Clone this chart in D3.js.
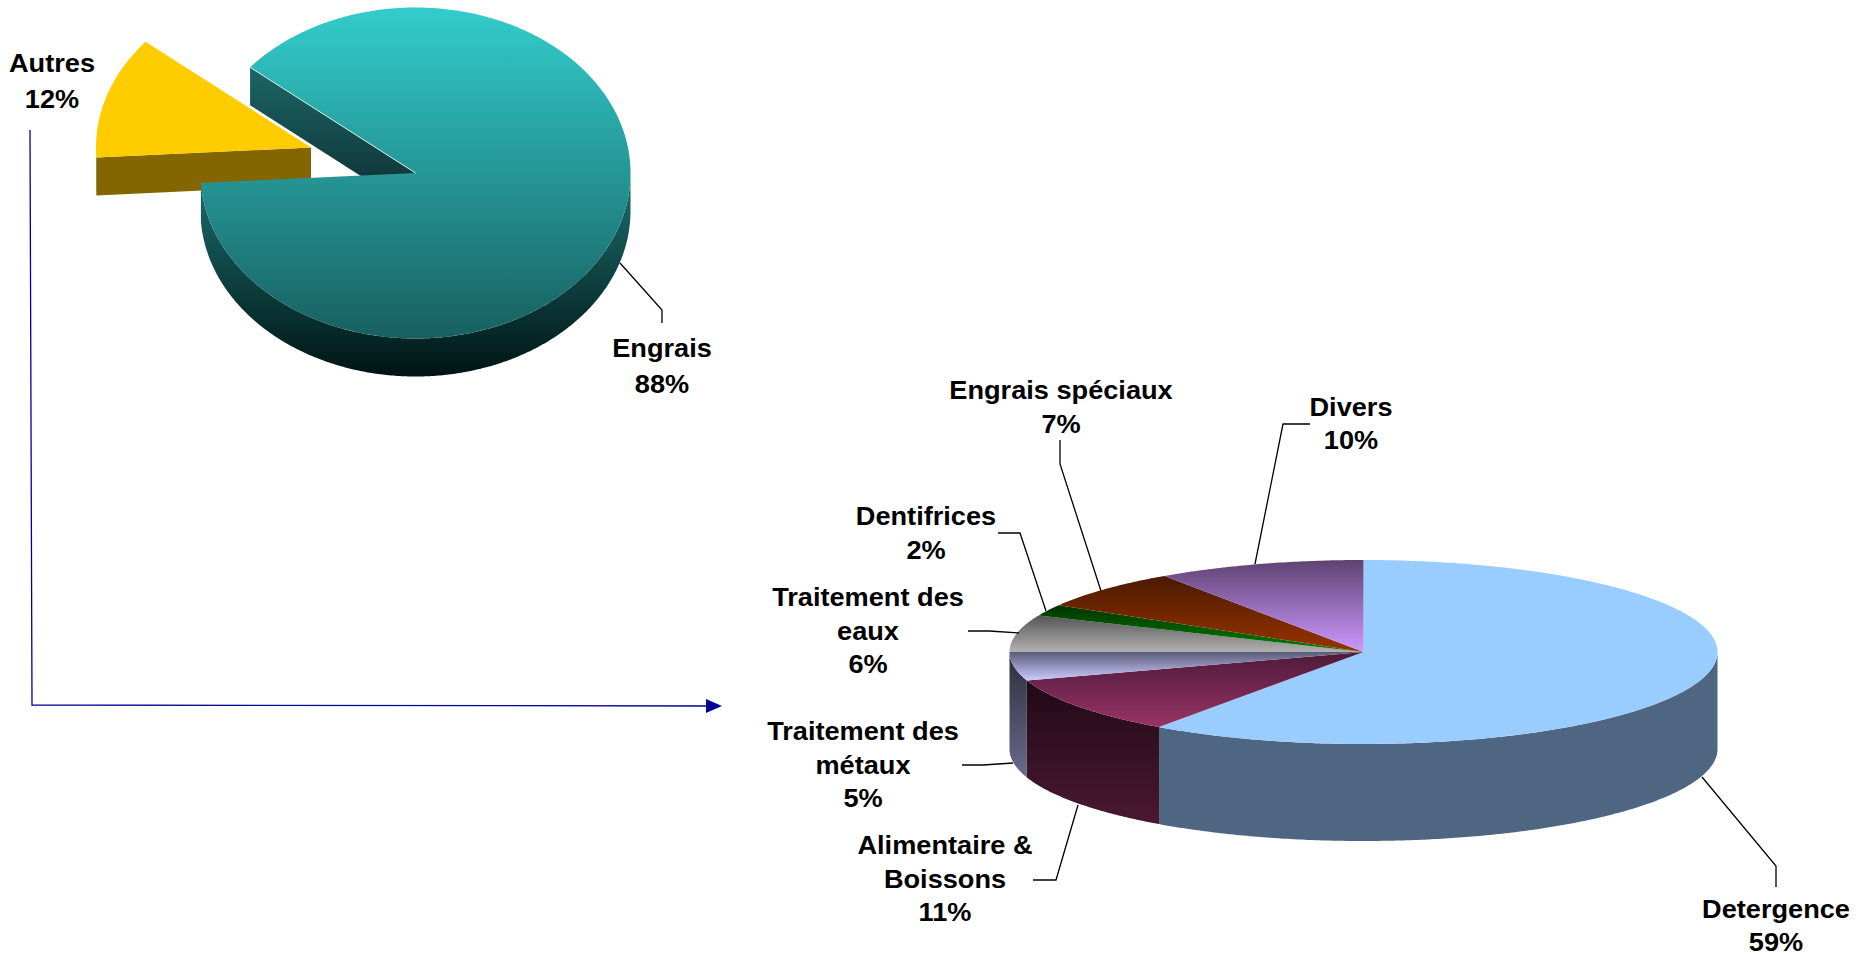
<!DOCTYPE html>
<html>
<head>
<meta charset="utf-8">
<script src="https://cdn.jsdelivr.net/npm/d3@7"></script>
<style>
html, body { margin: 0; padding: 0; background: #fff; }
svg { display: block; }
text { font-family: "Liberation Sans", Arial, sans-serif; font-weight: bold; fill: #000; }
</style>
</head>
<body>
<div id="chart"></div>
<script>
// small pie
var smallNames = ["Autres", "Engrais"];
var smallValues = [12, 88];
var smallLabels = ["12%", "88%"];
// big pie, shares as measured on the drawing, the labels are the printed ones
var bigNames = ["Detergence", "Alimentaire & Boissons", "Traitement des métaux", "Traitement des eaux", "Dentifrices", "Engrais spéciaux", "Divers"];
var bigValues = [59.8, 10.2, 5, 6.5, 2, 7, 9.5];
var bigLabels = ["59%", "11%", "5%", "6%", "2%", "7%", "10%"];

// colours, [top of gradient, bottom of gradient]
var smallTop = [["#ffcc00", "#ffcc00"], ["#33cccc", "#186060"]];
var smallSide = [["#846600", "#846600"], ["#1e7070", "#001414"]];
var bigTop = [["#99ccff", "#99ccff"], ["#4d1a3a", "#993366"], ["#5a5a78", "#ccccff"], ["#555555", "#b2b2b2"], ["#003300", "#008000"], ["#4a1a00", "#993300"], ["#5f4272", "#cc99ff"]];
var bigSide = [["#4f6682", "#4f6682"], ["#200a18", "#4a1830"], ["#2c2e3c", "#6a6a8c"], null, null, null, null];

var TAU = Math.PI * 2;
var svg = d3.select("#chart").append("svg").attr("width", 1866).attr("height", 954);
var defs = svg.append("defs");
var gradCount = 0;

function gradient(c) {
	var id = "grad" + (gradCount++);
	var g = defs.append("linearGradient").attr("id", id)
		.attr("x1", 0).attr("y1", 0).attr("x2", 0).attr("y2", 1);
	g.append("stop").attr("offset", 0).attr("stop-color", c[0]);
	g.append("stop").attr("offset", 1).attr("stop-color", c[1]);
	return "url(#" + id + ")";
}

var line = d3.line();

// points along the rim of an ellipse, angle 0 is 12 o'clock and goes clockwise
function rim(p, a0, a1, dy) {
	var n = Math.max(2, Math.ceil(Math.abs(a1 - a0) / 0.01));
	return d3.range(n + 1).map(function(i) {
		var a = a0 + (a1 - a0) * i / n;
		return [p.cx + p.rx * Math.sin(a), p.cy - p.ry * Math.cos(a) + dy];
	});
}

function topFace(g, p, d, c) {
	var pts = [[p.cx, p.cy]].concat(rim(p, d.startAngle, d.endAngle, 0));
	g.append("path").attr("d", line(pts) + "Z").attr("fill", gradient(c));
}

// outer wall, only the part that faces the viewer (90 to 270 degrees)
function sideFace(g, p, d, c) {
	var a0 = d.startAngle, a1 = d.endAngle;
	// bring the angles round so the front half falls in the range
	var k = Math.floor(a0 / TAU);
	[k, k + 1].forEach(function(t) {
		var lo = Math.max(a0, t * TAU + TAU / 4), hi = Math.min(a1, t * TAU + TAU * 3 / 4);
		if (hi <= lo) return;
		var pts = rim(p, lo, hi, 0).concat(rim(p, hi, lo, p.depth));
		g.append("path").attr("d", line(pts) + "Z").attr("fill", gradient(c));
	});
}

// cut wall between centre and rim
function cutFace(g, p, a, c) {
	var r = rim(p, a, a, 0)[0];
	var pts = [[p.cx, p.cy], r, [r[0], r[1] + p.depth], [p.cx, p.cy + p.depth]];
	g.append("path").attr("d", line(pts) + "Z").attr("fill", gradient(c));
}

// ---- small pie, Autres pulled out of the pie
var smallPie = d3.pie().sort(null).startAngle(266.5 / 360 * TAU).endAngle(626.5 / 360 * TAU);
var smallArcs = smallPie(smallValues);
var engraisP = {cx: 415.5, cy: 173, rx: 215, ry: 165.5, depth: 38};
var autresP = {cx: 311, cy: 147.5, rx: 215, ry: 165.5, depth: 38};

var gs = svg.append("g");
sideFace(gs, engraisP, smallArcs[1], smallSide[1]);
cutFace(gs, engraisP, smallArcs[1].startAngle, ["#1c6666", "#0d2a2e"]);
cutFace(gs, autresP, smallArcs[0].startAngle, smallSide[0]);
sideFace(gs, autresP, smallArcs[0], smallSide[0]);
topFace(gs, autresP, smallArcs[0], smallTop[0]);
topFace(gs, engraisP, smallArcs[1], smallTop[1]);
// light edge along the cut
gs.append("path")
	.attr("d", line([[engraisP.cx, engraisP.cy], rim(engraisP, smallArcs[1].startAngle, smallArcs[1].startAngle, 0)[0]]))
	.attr("stroke", "#cfeeee").attr("stroke-width", 1).attr("fill", "none");

// ---- big pie
var bigPie = d3.pie().sort(null);
var bigArcs = bigPie(bigValues);
var bigP = {cx: 1363.5, cy: 652, rx: 354, ry: 92, depth: 97};

var gb = svg.append("g");
bigArcs.forEach(function(d, i) {
	if (bigSide[i]) sideFace(gb, bigP, d, bigSide[i]);
});
bigArcs.forEach(function(d, i) {
	topFace(gb, bigP, d, bigTop[i]);
});

// ---- leader lines
var leaders = [
	[[620, 263], [662, 310], [662, 323]],
	[[1702, 777], [1776, 866], [1776, 887]],
	[[1078, 805], [1056, 880], [1033, 880]],
	[[1013, 763], [983, 765], [962, 765]],
	[[1019, 633], [989, 631], [968, 631]],
	[[1046, 611], [1020, 533], [998, 533]],
	[[1101, 591], [1060, 464], [1060, 440]],
	[[1255, 564], [1283, 424], [1310, 424]]
];
svg.append("g").selectAll("path").data(leaders).enter().append("path")
	.attr("d", function(d) { return line(d); })
	.attr("fill", "none").attr("stroke", "#000").attr("stroke-width", 1.3);

// ---- blue arrow from Autres to the big pie
svg.append("path").attr("d", line([[30, 130], [32, 705], [706, 706]]))
	.attr("fill", "none").attr("stroke", "#000099").attr("stroke-width", 1.3);
svg.append("path").attr("d", line([[706, 699], [722, 706], [706, 713]]) + "Z").attr("fill", "#000099");

// ---- labels
var labels = [
	{x: 52, y: 72, gap: 36, lines: [smallNames[0], smallLabels[0]]},
	{x: 662, y: 357, gap: 36, lines: [smallNames[1], smallLabels[1]]},
	{x: 1776, y: 918, gap: 33, lines: [bigNames[0], bigLabels[0]]},
	{x: 945, y: 854, gap: 33.5, lines: ["Alimentaire &", "Boissons", bigLabels[1]]},
	{x: 863, y: 740, gap: 33.5, lines: ["Traitement des", "métaux", bigLabels[2]]},
	{x: 868, y: 606, gap: 33.5, lines: ["Traitement des", "eaux", bigLabels[3]]},
	{x: 926, y: 525, gap: 33.5, lines: [bigNames[4], bigLabels[4]]},
	{x: 1061, y: 399, gap: 33.5, lines: [bigNames[5], bigLabels[5]]},
	{x: 1351, y: 416, gap: 33, lines: [bigNames[6], bigLabels[6]]}
];
var stretch = 1.045;
labels.forEach(function(l) {
	l.lines.forEach(function(t, i) {
		svg.append("text")
			.attr("transform", "translate(" + l.x + "," + (l.y + i * l.gap) + ") scale(" + stretch + ",1)")
			.attr("text-anchor", "middle")
			.attr("font-size", 26)
			.text(t);
	});
});
</script>
</body>
</html>
